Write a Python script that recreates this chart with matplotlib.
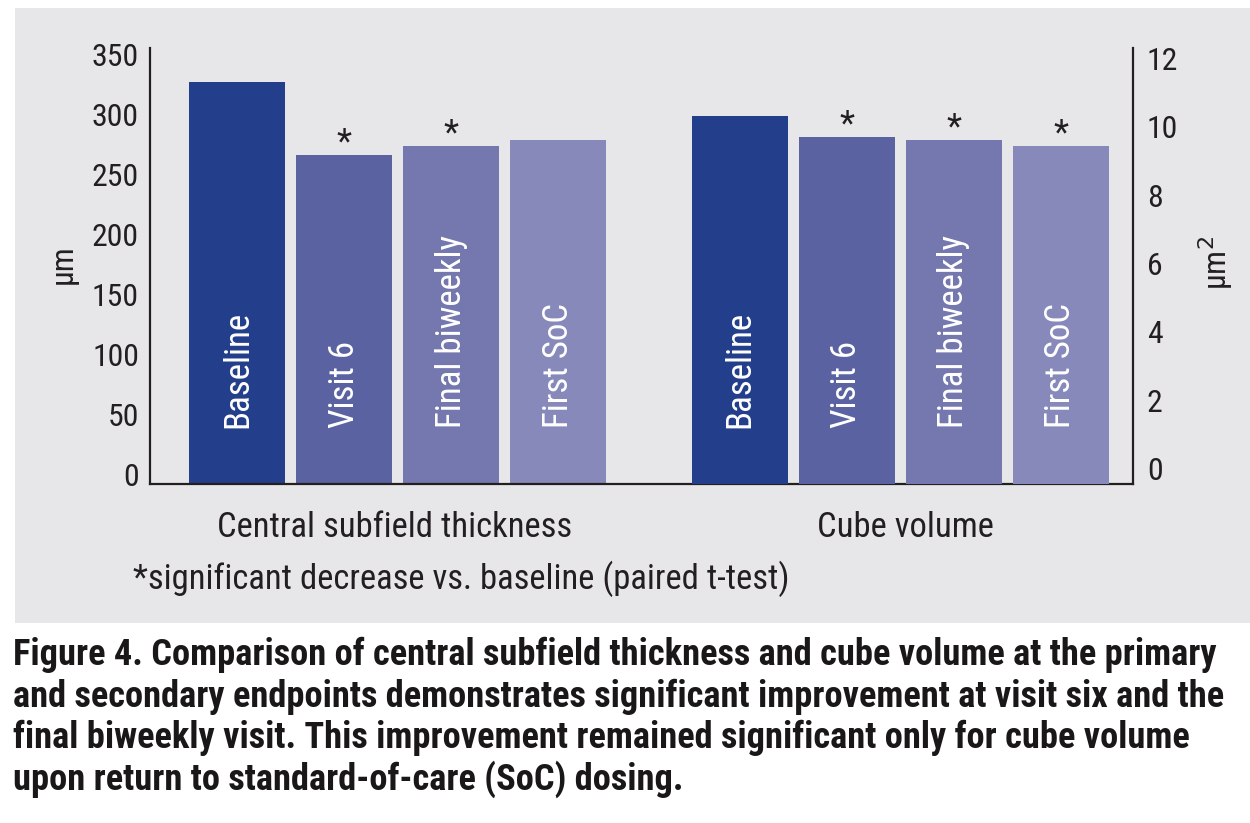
import matplotlib
matplotlib.use("Agg")
import matplotlib.pyplot as plt
from matplotlib.patches import Rectangle
from matplotlib import transforms
from matplotlib import font_manager

# ---------------- data ----------------
groups = ["Central subfield thickness", "Cube volume"]
timepoints = ["Baseline", "Visit 6", "Final biweekly", "First SoC"]
cst_values = [326.4, 265.6, 273.3, 278.3]        # µm (left axis)
cube_values = [10.32, 9.70, 9.61, 9.44]          # right axis
cst_signif = [False, True, True, False]
cube_signif = [False, True, True, True]
left_ticks = [0, 50, 100, 150, 200, 250, 300, 350]
right_ticks = [0, 2, 4, 6, 8, 10, 12]
footnote = "*significant decrease vs. baseline (paired t-test)"
caption_lines = [
    "Figure 4. Comparison of central subfield thickness and cube volume at the primary",
    "and secondary endpoints demonstrates significant improvement at visit six and the",
    "final biweekly visit. This improvement remained significant only for cube volume",
    "upon return to standard-of-care (SoC) dosing.",
]

# ---------------- style ----------------
W, H = 1250, 823
bar_colors = ["#233f8c", "#5a62a2", "#7577af", "#8889bb"]
panel_color = "#e7e7e9"
text_color = "#231f20"

names = {f.name for f in font_manager.fontManager.ttflist}
main_font = "DejaVu Sans"
for cand in ["Roboto Condensed", "Archivo Narrow", "Barlow Semi Condensed", "Liberation Sans Narrow"]:
    if cand in names:
        main_font = cand
        break
FONT = [main_font, "DejaVu Sans"]
plt.rcParams["font.family"] = FONT

fig = plt.figure(figsize=(W / 100, H / 100), dpi=100)
fig.patch.set_facecolor("white")

def px(x, y):
    return x / W, 1 - y / H

# grey panel
x0, y0 = px(15, 623)
x1, y1 = px(1250, 8)
fig.add_artist(Rectangle((x0, y0), x1 - x0, y1 - y0, transform=fig.transFigure,
                         facecolor=panel_color, edgecolor="none", zorder=-10))

# helpers to size text by measured extent
fig.canvas.draw()
renderer = fig.canvas.get_renderer()

def size_for(text, target_px, dim="w", **kw):
    t = fig.text(0, 0, text, fontsize=20, **kw)
    bb = t.get_window_extent(renderer)
    v = bb.width if dim == "w" else bb.height
    t.remove()
    return 20 * target_px / v

tick_fs = size_for("350", 47)
label_fs = size_for("Baseline", 117)
ast_fs = tick_fs * 1.1

# axes
ax_l, ax_r, ax_t, ax_b = 150, 1133, 48, 484
ax = fig.add_axes([ax_l / W, (H - ax_b) / H, (ax_r - ax_l) / W, (ax_b - ax_t) / H])
ax.set_facecolor("none")
ax2 = ax.twinx()
ax2.set_facecolor("none")

left_lim = (-8.3, 355.0)
right_lim = (-0.454, 12.307)
ax.set_ylim(*left_lim)
ax2.set_ylim(*right_lim)
ax.set_xlim(0, ax_r - ax_l)

step = 107
width = 96
group_centers = [247.5, 750]

def positions(c):
    return [c + (i - 1.5) * step for i in range(len(timepoints))]

xl = positions(group_centers[0])
xr = positions(group_centers[1])

ax.bar(xl, [v - left_lim[0] for v in cst_values], bottom=left_lim[0], width=width,
       color=bar_colors, zorder=2)
ax2.bar(xr, [v - right_lim[0] for v in cube_values], bottom=right_lim[0], width=width,
        color=bar_colors, zorder=2)

# asterisks
for x, v, s in zip(xl, cst_values, cst_signif):
    if s:
        ax.annotate("*", (x, v), xytext=(0, 2), textcoords="offset points",
                    ha="center", va="baseline", fontsize=ast_fs, color=text_color)
for x, v, s in zip(xr, cube_values, cube_signif):
    if s:
        ax2.annotate("*", (x, v), xytext=(0, 2), textcoords="offset points",
                     ha="center", va="baseline", fontsize=ast_fs, color=text_color)

# labels inside bars (drawn on the top-most axes so they sit above both bar sets)
blend = transforms.blended_transform_factory(ax2.transData, ax2.transAxes)
shift = transforms.ScaledTranslation(10 / 100, 0, fig.dpi_scale_trans)
for xs in (xl, xr):
    for x, lab in zip(xs, timepoints):
        ax2.text(x, (ax_b - 428) / (ax_b - ax_t), lab, transform=blend + shift,
                 rotation=90, rotation_mode="anchor", ha="left", va="baseline",
                 fontsize=label_fs, color="white", zorder=3)

# spines / ticks
for a in (ax, ax2):
    a.spines["top"].set_visible(False)
    for s in a.spines.values():
        s.set_linewidth(1.6)
        s.set_color(text_color)
    a.tick_params(axis="both", length=0, labelsize=tick_fs, labelcolor=text_color)
ax.spines["right"].set_visible(False)
ax2.spines["left"].set_visible(False)
ax2.spines["bottom"].set_visible(False)
ax.set_xticks([])
ax.set_yticks(left_ticks)
ax2.set_yticks(right_ticks)
ax.tick_params(axis="y", pad=8)
ax2.tick_params(axis="y", pad=10)

# axis titles
fig.text(*px(78, 264), "µm", rotation=90, ha="right", va="center",
         fontsize=tick_fs, color=text_color)
fig.text(*px(1196, 263), "µm$^2$", rotation=90, ha="left", va="center",
         fontsize=tick_fs, color=text_color)

# ---------- texts fitted to width ----------
def fit(t, target_px):
    bb = t.get_window_extent(renderer)
    t.set_fontsize(t.get_fontsize() * target_px / bb.width)

g1 = fig.text(*px((217 + 572) / 2, 537), groups[0], ha="center", va="baseline",
              fontsize=26, color=text_color)
g2 = fig.text(*px((815 + 995) / 2, 537), groups[1], ha="center", va="baseline",
              fontsize=26, color=text_color)
fit(g1, 572 - 217)
g2.set_fontsize(g1.get_fontsize())

fn = fig.text(*px(133, 589), footnote, ha="left", va="baseline",
              fontsize=26, color=text_color)
fit(fn, 790 - 133)

baselines = [665, 707, 748, 790]
caps = []
for yb, line in zip(baselines, caption_lines):
    caps.append(fig.text(*px(13, yb), line, ha="left", va="baseline", fontsize=26,
                         fontweight="bold", color="#1a1718"))
fit(caps[0], 1218 - 13)
for c in caps[1:]:
    c.set_fontsize(caps[0].get_fontsize())

fig.savefig("out.png", dpi=100, facecolor="white")
